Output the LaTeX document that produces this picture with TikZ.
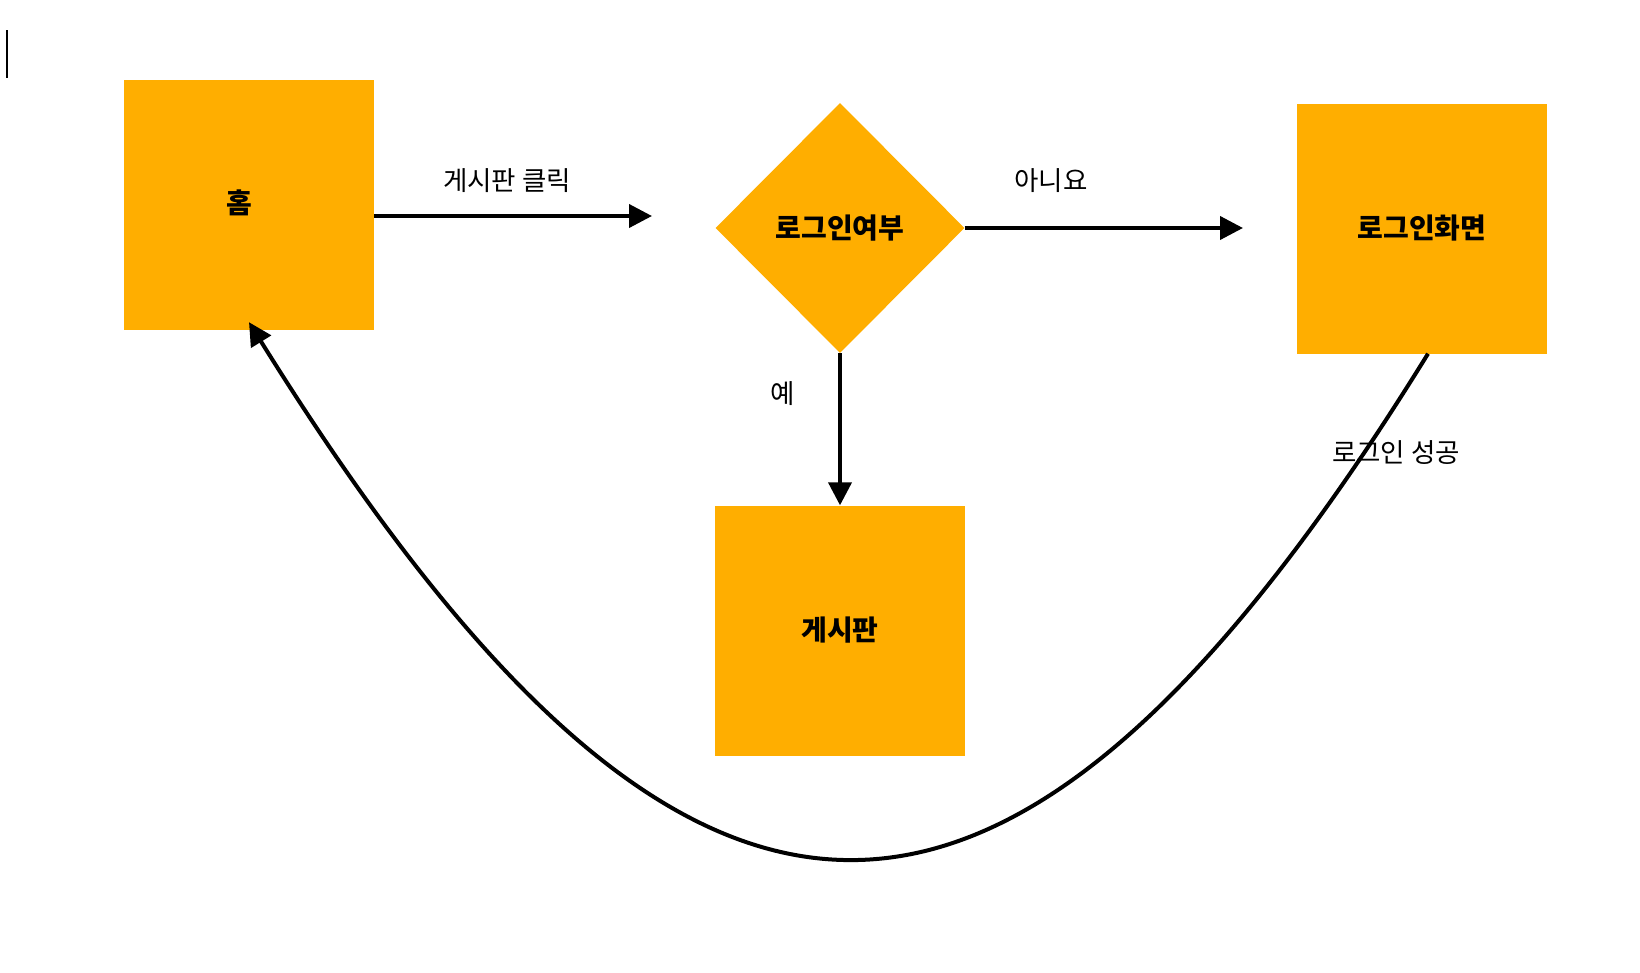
\documentclass[tikz,border=0pt]{standalone}
\usepackage{fontspec}
\setmainfont{Noto Sans CJK KR}
\usetikzlibrary{arrows.meta,shapes.geometric}
\definecolor{boxorange}{HTML}{FFAE00}
\begin{document}
\begin{tikzpicture}[x=1pt,y=-1pt,
  box/.style={fill=boxorange,draw=none,minimum width=250pt,minimum height=250pt,inner sep=0pt,font=\fontsize{28}{32}\selectfont\bfseries},
  dec/.style={diamond,aspect=1,fill=boxorange,draw=none,minimum width=249pt,minimum height=250pt,inner sep=0pt,font=\fontsize{28}{32}\selectfont\bfseries},
  conn/.style={line width=4pt,-{Triangle[length=23pt,width=23pt]}},
  lbl/.style={font=\fontsize{26.5}{30}\selectfont,inner sep=0pt}]
\useasboundingbox (0,0) rectangle (1640,972);
% cursor mark
\draw[line width=2pt] (7,30) -- (7,78);
% nodes
\node[box,label={[font=\fontsize{28}{32}\selectfont\bfseries,xshift=-10pt,yshift=2pt]center:홈}] (home) at (249,205) {};
\node[dec] (check) at (840,228) {로그인여부};
\node[box] (login) at (1422,228.5) {로그인화면};
\node[box] (board) at (840,630.5) {게시판};
% free ends
\coordinate (a1) at (652,216);
\coordinate (a2) at (1243,228);
% connectors
\draw[conn] ([yshift=-11pt]home.east) -- (a1);
\draw[conn] (check.east) -- (a2);
\draw[conn] (check.south) -- (board.north);
\draw[conn] ([xshift=6pt]login.south) .. controls (1009,1031) and (690,1031) .. ([yshift=8pt]home.south);
% labels
\node[lbl] (l1) at (507,181) {게시판 클릭};
\node[lbl] (l2) at (1051,181) {아니요};
\node[lbl] (l3) at (783,394) {예};
\node[lbl] (l4) at (1396,453) {로그인 성공};
\end{tikzpicture}
\end{document}
